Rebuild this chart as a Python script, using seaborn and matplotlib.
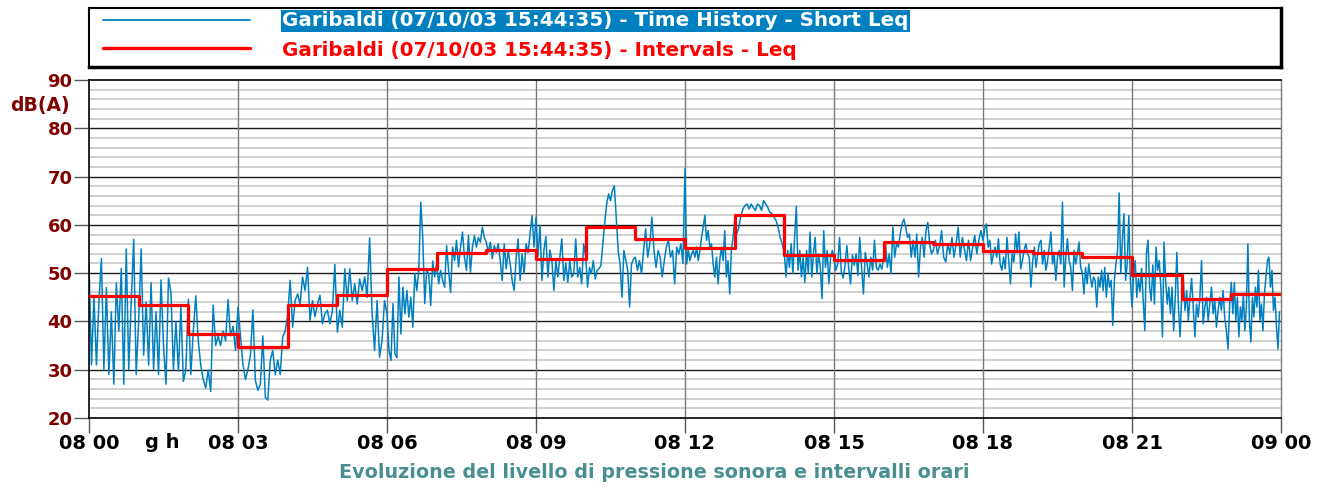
import numpy as np
import pandas as pd
import matplotlib
matplotlib.use("Agg")
import matplotlib.pyplot as plt
import seaborn as sns

# ---------------- data ----------------
# Short Leq time history, one list per hour (08 00 ... 08 23), dB(A)
h00 = [52, 31, 45, 31, 44, 53, 30, 47, 29, 42, 27, 48, 38, 51, 27, 55, 30, 44, 57, 29]
h01 = [40, 55, 33, 44, 31, 48, 30, 42, 29, 48.6, 35, 27, 49, 46, 30, 40, 29.7, 43, 27.6, 30]
h02 = [44.6, 29, 38, 45.3, 36, 31, 28, 26.2, 30, 25.5, 43.4, 35, 37, 35, 38, 36, 44.5, 37, 39, 34]
h03 = [43, 37, 31, 28, 30, 33, 42.4, 27.8, 25.7, 27, 37, 24.3, 23.7, 32, 34, 29, 32, 29, 36.8, 38]
h04 = [41.2, 48.5, 38.8, 44.3, 45.7, 43.6, 49.2, 46.4, 51.2, 40.2, 44.3, 41, 43.6, 45.4, 39.5,
       41.6, 42.3, 39.5, 42.3, 51.8]
h05 = [37.8, 42.3, 38.8, 50.9, 44.3, 50.9, 44.3, 47.8, 43.6, 48.8, 46.4, 49.2, 45, 57.3, 41.6,
       34, 44.3, 32.6, 36, 44.3]
h06 = [41.6, 34, 31.9, 43.7, 33.3, 32.5, 49.2, 37.4, 47.1, 41.6, 46.4, 40.9, 45, 38.8, 49.9,
       46.4, 50.6, 64.7, 57.4, 43.7, 50.6, 49.9, 43.3, 52.5, 49.2]
h07 = [51.9, 47.8, 50.6, 48.5, 47.1, 55.7, 50.6, 46, 55.4, 52.6, 56.8, 51.3, 55.4, 58.5, 53.3,
       50.6, 57.8, 50.2, 55.4, 57.8, 55.4, 57.4, 56.4, 59.5, 57.4]
h08 = [56.4, 54.3, 56.4, 53, 55.7, 54.3, 56.1, 52.6, 48.5, 56.1, 50.9, 54.6, 51.9, 48.5, 46.4,
       53, 57.1, 48.5, 54, 49.9, 56.1, 54.3, 58.1, 61.9, 55.4]
h09 = [61.6, 53.5, 59.9, 48.5, 54.8, 57.6, 49.2, 54.8, 52.6, 46.4, 52.6, 49.2, 53.3, 57.1, 48.5,
       52.1, 48.1, 52.6, 49.2, 49.9, 57.1, 49.2, 51.2, 47.8, 56.1]
h10 = [53.5, 47.1, 51.2, 49.9, 52.6, 48.8, 50.6, 50.9, 51.6, 56.1, 60.6, 64.3, 66.4, 65, 67.1,
       68.1, 61.6, 54.7, 51.9, 45, 54.7, 52.6, 50.6, 43, 51.9, 52.9]
h11 = [53.3, 50.6, 52.6, 49.9, 54.7, 59.2, 53.3, 56.1, 61.6, 54.7, 51.2, 54.7, 53.3, 49.2, 52.6,
       55.4, 56.8, 53.3, 54.7, 47.8, 55.4, 54, 56.1, 52]
h12 = [71.6, 51.9, 54.7, 52.6, 54, 54.7, 53.3, 55.4, 52.6, 54.7, 57.4, 59.5, 62, 56.8, 58.8,
       55.4, 56.1, 51.9, 49.2, 53.3, 47.8, 52.6, 55.4, 52.6, 58.8, 49.2, 52.6, 45.7, 54.7, 57.4]
h13 = [60.9, 58.1, 59.5, 61.9, 63.3, 64, 64.3, 63.3, 64.3, 63.6, 63, 64.3, 64, 63, 65, 64.3,
       63.6, 62.6, 62.3, 61.6, 60.9, 59.5, 57.4, 56.1]
h14 = [54, 49.2, 54.7, 51.2, 56.1, 49.9, 57.4, 63.8, 50.6, 54.7, 49.2, 53.3, 48.1, 54.7, 49.9,
       58.5, 49.2, 54, 57.4, 49.9, 54, 51.2, 44.7, 58.8, 51.2, 54.7, 47.8, 53.3, 54.7]
h15 = [53.3, 50.6, 51.9, 57.4, 50.2, 49, 51.6, 55.7, 50.9, 47.8, 53.8, 51.6, 54, 49.5, 57.4,
       51.2, 45.7, 54.3, 51.9, 49.2, 53.3, 50.6, 56.8, 51.2, 50.6, 51.9, 50.8]
h16 = [53.3, 56.1, 51.2, 54, 49.9, 59.5, 53.3, 56.1, 55.4, 58.1, 60.2, 61.2, 59.5, 57.4, 58.1,
       53.3, 56.8, 53.3, 58.1, 49.2, 55.4, 57.4, 53.3, 58.8, 60.5, 56.1, 54]
h17 = [54.7, 56.8, 54, 55.7, 58.8, 53.3, 52.3, 56.1, 54, 57.4, 53.3, 56.1, 59.5, 53.3, 57.4,
       55, 52.6, 56.8, 52.6, 55.4, 57.8, 54, 56.8, 58.8]
h18 = [56.8, 59.2, 60.2, 55.4, 56.8, 51.9, 53.9, 55.4, 53.3, 57.1, 51.9, 50.6, 53.3, 50.9, 57.4,
       52.6, 47.8, 54, 52.3, 58.1, 54.3, 58.5, 50.9, 52.6, 54.7, 56.1, 54, 53.3, 47.1]
h19 = [52.6, 55.4, 51.2, 54, 56.1, 56.8, 51.9, 54.7, 50.6, 52.6, 55.4, 58.5, 51.9, 54, 48.5,
       53.3, 54.7, 51.9, 64.7, 47.1, 53.3, 57.1, 52.6, 51.2, 46.4, 54.7, 51.9, 54, 56.4, 51.2]
h20 = [50, 45.7, 51.2, 47.8, 51.9, 49.2, 47.1, 49.2, 48.5, 43, 49.2, 47.1, 50.6, 46.4, 51.2, 45,
       50, 47.1, 48.5, 39.2, 48.5, 51.9, 54.7, 66.6, 50, 56.8, 62.3, 48.5, 51.9, 61.9, 48.5]
h21 = [43, 49.7, 52.6, 45, 48.9, 46.2, 51, 44.3, 38.1, 54, 56.8, 47.1, 44.3, 51.7, 43.6, 55.4,
       50.6, 52.6, 47.1, 36.8, 56.4, 48.5, 43.6, 47.1, 41.6, 47.1, 38.1, 45, 54.3, 43, 36.8]
h22 = [45, 48.9, 42.3, 46.4, 40.2, 45, 48.9, 43, 36.8, 43.6, 40.9, 45, 52.6, 39.5, 43, 45, 40.2,
       43.6, 47.1, 41.6, 44.3, 38.8, 42.3, 45, 42.3, 46.4, 40.9, 38.1, 34.3, 43.6]
h23 = [48.1, 41.6, 48.1, 40.2, 45, 36.8, 43, 40.2, 45.7, 38.1, 43, 56.1, 40.2, 35.7, 45, 40.9,
       47.1, 43, 50.6, 40.2, 43.6, 38.1, 45.7, 49.2, 52.6, 53.3, 47.1, 50.6, 42.3, 45, 38.8, 34.3, 42]

# Hourly interval Leq, dB(A)
interval_leq = [45.3, 43.4, 37.4, 34.7, 43.4, 45.5, 50.9, 54.2, 54.8, 53.0, 59.5, 57.1,
                55.2, 62.1, 53.7, 52.8, 56.4, 56.1, 54.5, 54.1, 53.4, 49.7, 44.7, 45.7]

x_tick_labels = ["08 00", "08 03", "08 06", "08 09", "08 12", "08 15", "08 18", "08 21", "09 00"]
label_th = "Garibaldi (07/10/03 15:44:35) - Time History - Short Leq"
label_iv = "Garibaldi (07/10/03 15:44:35) - Intervals - Leq"
y_unit = "dB(A)"
x_unit = "g h"
title = "Evoluzione del livello di pressione sonora e intervalli orari"

# ---------------- build frames ----------------
hours_lists = [h00, h01, h02, h03, h04, h05, h06, h07, h08, h09, h10, h11,
               h12, h13, h14, h15, h16, h17, h18, h19, h20, h21, h22, h23]
xs, ys = [], []
for h, vals in enumerate(hours_lists):
    n = len(vals)
    for i, v in enumerate(vals):
        xs.append(h + i / n)
        ys.append(v)
df_th = pd.DataFrame({"hour": xs, "db": ys})
df_iv = pd.DataFrame({"hour": list(range(len(interval_leq) + 1)),
                      "leq": interval_leq + [interval_leq[-1]]})

# ---------------- figure ----------------
sns.set_theme(style="white")
plt.rcParams["font.family"] = ["DejaVu Sans"]
W, H = 1327, 487
fig = plt.figure(figsize=(W / 100, H / 100), dpi=100)
fig.patch.set_facecolor("white")

def fx(px):
    return px / W

def fy(py):
    return 1 - py / H

L, R, T, B = 89, 1281, 80, 418
ax = fig.add_axes([fx(L), fy(B), fx(R - L), (B - T) / H])
ax.set_facecolor("white")

# grid
for v in range(22, 90, 2):
    if v % 10:
        ax.axhline(v, color="#d0d0d0", lw=1.4, zorder=0)
for v in range(30, 90, 10):
    ax.axhline(v, color="#1a1a1a", lw=1.0, zorder=0.5)
for v in range(3, 24, 3):
    ax.axvline(v, color="#7a7a7a", lw=1.0, zorder=0.5)

sns.lineplot(data=df_th, x="hour", y="db", ax=ax, color="#0080c0", lw=1.1,
             estimator=None, sort=False, zorder=2)
sns.lineplot(data=df_iv, x="hour", y="leq", ax=ax, color="#ff0000", lw=2.3,
             estimator=None, drawstyle="steps-post", zorder=3)

ax.set_xlim(0, 24)
ax.set_ylim(20, 90)
ax.set_xlabel("")
ax.set_ylabel("")
ax.set_xticks(range(0, 25, 3))
ax.set_xticklabels(x_tick_labels)
ax.set_xticks(range(0, 25), minor=True)
ax.set_yticks(range(20, 91, 10))
ax.set_yticks(range(20, 91, 2), minor=True)
ax.tick_params(axis="y", which="major", length=10.8, width=1, color="#555555",
               labelsize=13, labelcolor="#800000", pad=1)
ax.tick_params(axis="y", which="minor", length=5.5, width=1, color="#555555")
ax.tick_params(axis="x", which="major", length=10.8, width=1, color="#555555",
               labelsize=14, labelcolor="black", pad=1)
ax.tick_params(axis="x", which="minor", length=5.5, width=1, color="#555555")
ax.tick_params(left=True, bottom=True)
for lab in ax.get_yticklabels() + ax.get_xticklabels():
    lab.set_fontweight("bold")
for s in ("left", "bottom", "top"):
    ax.spines[s].set_color("black")
    ax.spines[s].set_linewidth(1.2)
ax.spines["right"].set_color("#7a7a7a")
ax.spines["right"].set_linewidth(1.0)
ax.spines["right"].set_visible(True)
ax.spines["top"].set_visible(True)

fig.text(fx(70), fy(105), y_unit, ha="right", va="center", fontsize=13.5,
         fontweight="bold", color="#800000")
fig.text(fx(162), fy(442), x_unit, ha="center", va="center", fontsize=14,
         fontweight="bold", color="black")
fig.text(fx(654), fy(472), title, ha="center", va="center", fontsize=13.8,
         fontweight="bold", color="#4a8f8f")

# legend box
lg = fig.add_axes([fx(89), fy(67), fx(1281 - 89), (67 - 8) / H])
lg.set_xlim(89, 1281)
lg.set_ylim(67, 8)
lg.set_xticks([])
lg.set_yticks([])
for s in lg.spines.values():
    s.set_color("black")
    s.set_linewidth(1.5)
lg.spines["bottom"].set_linewidth(2.5)
lg.spines["right"].set_linewidth(2.5)
lg.plot([103, 250], [20, 20], color="#0080c0", lw=1.3)
lg.plot([103, 250], [48, 48], color="#ff0000", lw=2.4)
lg.text(282, 21, label_th, ha="left", va="center", fontsize=14.3, fontweight="bold",
        color="white", bbox=dict(facecolor="#0080c0", edgecolor="none", pad=1.0))
lg.text(282, 50, label_iv, ha="left", va="center", fontsize=14.3, fontweight="bold",
        color="#ff0000")

fig.savefig("out.png", dpi=100, facecolor="white")
